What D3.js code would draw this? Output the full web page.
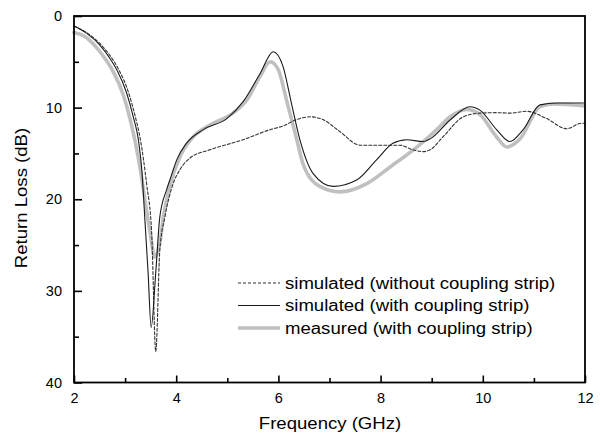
<!DOCTYPE html>
<html><head><meta charset="utf-8">
<script src="https://cdn.jsdelivr.net/npm/d3@7"></script>
<style>body{margin:0;background:#fff}svg{display:block}text{font-family:"Liberation Sans",Arial,sans-serif;fill:#000}</style>
</head><body><svg id="c" width="600" height="434"></svg>
<script>
// Frequency (GHz) and return loss (dB)
const simWithoutF = [2.0,2.27,2.54,2.74,2.88,3.07,3.2,3.3,3.42,3.52,3.6,3.68,3.78,3.94,4.07,4.27,4.66,5.31,5.84,6.09,6.36,6.62,6.87,7.2,7.6,7.99,8.38,8.63,8.83,8.97,9.22,9.62,9.95,10.27,10.53,10.86,11.25,11.64,11.93,12.0];
const simWithoutDB = [1.1,1.9,3.2,4.6,5.9,8.4,11.0,13.5,18.3,23.7,36.6,25.5,21.9,18.3,16.8,15.5,14.6,13.5,12.4,12.0,11.3,11.0,11.3,12.6,14.1,14.1,14.1,14.6,14.8,14.6,13.2,11.0,10.6,10.55,10.6,10.4,11.2,12.3,11.7,11.7];
const simWithF = [2.0,2.25,2.51,2.7,2.84,3.03,3.16,3.26,3.33,3.39,3.45,3.51,3.6,3.68,3.81,3.9,4.01,4.2,4.53,4.99,5.31,5.64,5.9,6.09,6.25,6.42,6.68,7.07,7.53,7.92,8.24,8.51,8.83,9.0,9.36,9.75,9.95,10.27,10.53,10.79,11.12,11.45,11.97];
const simWithDB = [1.1,1.9,3.2,4.6,5.9,8.4,11.0,13.5,17.0,22.5,28.0,34.0,28.0,21.9,19.0,17.5,15.7,13.9,12.4,11.2,9.35,6.3,3.9,5.5,9.4,13.5,17.2,18.6,17.9,15.7,13.9,13.5,13.7,13.3,11.35,9.9,10.3,12.4,13.7,12.4,9.7,9.5,9.5];
const measuredF = [2.0,2.2,2.45,2.64,2.78,2.97,3.1,3.2,3.3,3.4,3.49,3.58,3.68,3.75,3.88,4.07,4.33,4.66,5.11,5.38,5.64,5.84,6.0,6.16,6.36,6.48,6.81,7.2,7.73,8.18,8.71,9.1,9.36,9.69,9.95,10.27,10.47,10.73,11.12,11.37,11.97];
const measuredDB = [1.8,2.2,3.5,4.9,6.2,8.7,11.3,13.8,16.8,20.5,23.7,26.3,24.8,21.9,18.5,15.4,13.2,11.9,10.6,9.2,6.6,5.0,5.9,9.2,13.5,16.1,18.6,19.2,18.3,16.5,14.3,12.4,11.0,10.2,10.8,13.2,14.3,13.4,9.9,9.6,9.8];
const xTicks = [2,4,6,8,10,12];
const yTicks = [0,10,20,30,40];
const legendLabels = ["simulated (without coupling strip)","simulated (with coupling strip)","measured (with coupling strip)"];

const svg = d3.select("#c");
const L=74,R=585,T=16,B=382.5;
const x = d3.scaleLinear().domain([2,12]).range([L,R]);
const y = d3.scaleLinear().domain([0,40]).range([T,B]);
const STRETCH = 1.16;
function stretch(sel){ sel.each(function(){ const w=this.getComputedTextLength(); d3.select(this).attr("textLength",w*STRETCH).attr("lengthAdjust","spacingAndGlyphs"); }); }

const series = [
  {f:measuredF, v:measuredDB, stroke:"#c0c0c0", w:3.6, dash:null},
  {f:simWithoutF, v:simWithoutDB, stroke:"#333", w:1.1, dash:"3,2"},
  {f:simWithF, v:simWithDB, stroke:"#1a1a1a", w:1.1, dash:null}
];
const line = d3.line().x(d=>x(d[0])).y(d=>y(d[1])).curve(d3.curveMonotoneX);
const plot = svg.append("g");
series.forEach(s=>{
  plot.append("path").datum(s.f.map((f,i)=>[f,s.v[i]]))
    .attr("d",line).attr("fill","none").attr("stroke",s.stroke)
    .attr("stroke-width",s.w).attr("stroke-dasharray",s.dash)
    .attr("stroke-linejoin","round").attr("stroke-linecap","round");
});

// axes (ticks inward)
const xAx = svg.append("g").attr("transform",`translate(0,${B})`)
  .call(d3.axisBottom(x).tickValues(d3.range(2,12.01,1)).tickSize(-7).tickFormat(d=>xTicks.includes(d)?d:"").tickPadding(10));
xAx.selectAll(".tick line").attr("y2",d=>xTicks.includes(d)?-7:-4.5);
const yAx = svg.append("g").attr("transform",`translate(${L},0)`)
  .call(d3.axisLeft(y).tickValues(d3.range(0,40.01,5)).tickSize(-8).tickFormat(d=>yTicks.includes(d)?d:"").tickPadding(12));
yAx.selectAll(".tick line").attr("x2",d=>yTicks.includes(d)?8:5);
[xAx,yAx].forEach(a=>{a.select(".domain").remove();a.selectAll(".tick line").attr("stroke","#000").attr("stroke-width",1.6);
  a.selectAll("text").attr("font-size",14.5).attr("fill","#000");});
svg.append("rect").attr("x",L).attr("y",T).attr("width",R-L).attr("height",B-T)
  .attr("fill","none").attr("stroke","#000").attr("stroke-width",1.8);

svg.append("text").attr("x",330).attr("y",429).attr("text-anchor","middle").attr("font-size",16).text("Frequency (GHz)").call(stretch);
svg.append("text").attr("transform","translate(27,198) rotate(-90)").attr("text-anchor","middle").attr("font-size",16).text("Return Loss (dB)").call(stretch);

// legend
const legSeries=[series[1],series[2],series[0]];
legendLabels.forEach((t,i)=>{
  const yy=283+i*22.5;
  svg.append("line").attr("x1",238).attr("x2",280).attr("y1",yy).attr("y2",yy)
    .attr("stroke",legSeries[i].stroke).attr("stroke-width",legSeries[i].w).attr("stroke-dasharray",legSeries[i].dash);
  svg.append("text").attr("x",285).attr("y",yy).attr("dy","0.36em").attr("font-size",16).text(t).call(stretch);
});
</script></body></html>
